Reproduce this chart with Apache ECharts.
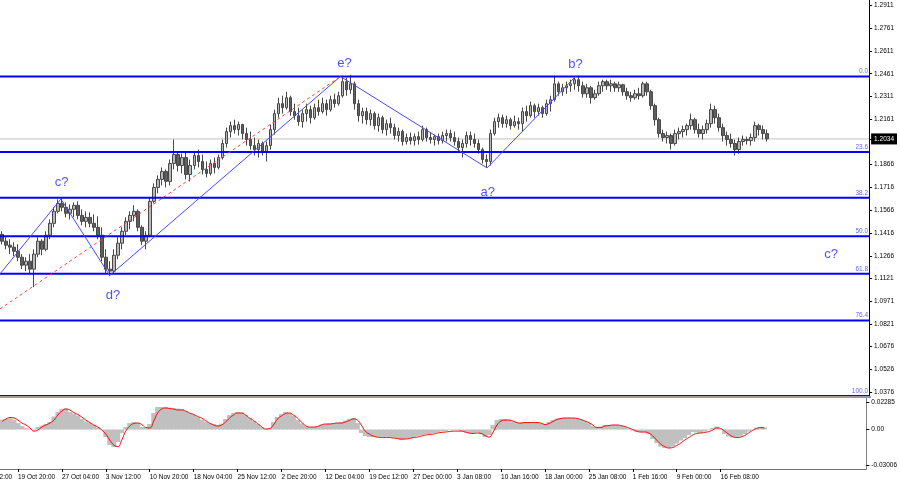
<!DOCTYPE html>
<html>
<head>
<meta charset="utf-8">
<script src="https://cdn.jsdelivr.net/npm/echarts@6/dist/echarts.min.js"></script>
<style>
  html, body { margin: 0; padding: 0; background: #ffffff; }
  #chart { width: 900px; height: 485px; }
</style>
</head>
<body>
<div id="chart"></div>
<script>
  // H4-ish bars (one candle per ~4px)
  const opens = [
    1.1409,1.1364,1.1338,1.1325,1.1298,1.1259,1.1207,1.1233,1.1181,1.1279,
    1.1364,1.1311,1.1403,1.1481,1.1560,1.1612,1.1586,1.1547,1.1573,1.1599,
    1.1533,1.1494,1.1520,1.1481,1.1455,1.1403,1.1259,1.1181,1.1168,1.1272,
    1.1351,1.1429,1.1494,1.1533,1.1560,1.1455,1.1364,1.1403,1.1625,1.1716,
    1.1769,1.1821,1.1756,1.1873,1.1932,1.1860,1.1912,1.1801,1.1860,1.1925,
    1.1886,1.1834,1.1808,1.1873,1.1847,1.1912,1.2004,1.2082,1.2121,1.2095,
    1.2128,1.2069,1.2030,1.1990,1.1964,1.2004,1.1951,1.1990,1.2095,1.2200,
    1.2265,1.2239,1.2304,1.2213,1.2186,1.2147,1.2200,1.2226,1.2173,1.2239,
    1.2213,1.2265,1.2226,1.2291,1.2265,1.2317,1.2409,1.2356,1.2395,1.2265,
    1.2186,1.2213,1.2160,1.2200,1.2121,1.2173,1.2095,1.2134,1.2108,1.2056,
    1.2082,1.2017,1.2043,1.2023,1.2049,1.2030,1.2095,1.2043,1.2030,1.2049,
    1.2023,1.2056,1.2069,1.2043,1.2017,1.1977,1.2004,1.2056,1.2030,1.2004,
    1.1964,1.1899,1.1886,1.2069,1.2147,1.2173,1.2134,1.2160,1.2121,1.2147,
    1.2134,1.2213,1.2186,1.2252,1.2213,1.2239,1.2200,1.2265,1.2291,1.2395,
    1.2343,1.2369,1.2382,1.2395,1.2422,1.2382,1.2330,1.2369,1.2304,1.2330,
    1.2382,1.2409,1.2382,1.2395,1.2369,1.2389,1.2343,1.2317,1.2304,1.2330,
    1.2317,1.2395,1.2343,1.2252,1.2160,1.2069,1.2043,1.2056,1.2004,1.2069,
    1.2082,1.2095,1.2121,1.2160,1.2095,1.2069,1.2095,1.2134,1.2226,1.2173,
    1.2108,1.2056,1.2030,1.2004,1.1964,1.2017,1.2030,1.2023,1.2043,1.2121,
    1.2095,1.2069
  ];
  const closes = [
    1.1364,1.1338,1.1325,1.1298,1.1259,1.1207,1.1233,1.1181,1.1279,1.1364,
    1.1311,1.1403,1.1481,1.1560,1.1612,1.1586,1.1547,1.1573,1.1599,1.1533,
    1.1494,1.1520,1.1481,1.1455,1.1403,1.1259,1.1181,1.1168,1.1272,1.1351,
    1.1429,1.1494,1.1533,1.1560,1.1455,1.1364,1.1403,1.1625,1.1716,1.1769,
    1.1821,1.1756,1.1873,1.1932,1.1860,1.1912,1.1801,1.1860,1.1925,1.1886,
    1.1834,1.1808,1.1873,1.1847,1.1912,1.2004,1.2082,1.2121,1.2095,1.2128,
    1.2069,1.2030,1.1990,1.1964,1.2004,1.1951,1.1990,1.2095,1.2200,1.2265,
    1.2239,1.2304,1.2213,1.2186,1.2147,1.2200,1.2226,1.2173,1.2239,1.2213,
    1.2265,1.2226,1.2291,1.2265,1.2317,1.2409,1.2356,1.2395,1.2265,1.2186,
    1.2213,1.2160,1.2200,1.2121,1.2173,1.2095,1.2134,1.2108,1.2056,1.2082,
    1.2017,1.2043,1.2023,1.2049,1.2030,1.2095,1.2043,1.2030,1.2049,1.2023,
    1.2056,1.2069,1.2043,1.2017,1.1977,1.2004,1.2056,1.2030,1.2004,1.1964,
    1.1899,1.1886,1.2069,1.2147,1.2173,1.2134,1.2160,1.2121,1.2147,1.2134,
    1.2213,1.2186,1.2252,1.2213,1.2239,1.2200,1.2265,1.2291,1.2395,1.2343,
    1.2369,1.2382,1.2395,1.2422,1.2382,1.2330,1.2369,1.2304,1.2330,1.2382,
    1.2409,1.2382,1.2395,1.2369,1.2389,1.2343,1.2317,1.2304,1.2330,1.2317,
    1.2395,1.2343,1.2252,1.2160,1.2069,1.2043,1.2056,1.2004,1.2069,1.2082,
    1.2095,1.2121,1.2160,1.2095,1.2069,1.2095,1.2134,1.2226,1.2173,1.2108,
    1.2056,1.2030,1.2004,1.1964,1.2017,1.2030,1.2023,1.2043,1.2121,1.2095,
    1.2069,1.2034
  ];
  const lows = [
    1.1344,1.1311,1.1279,1.1266,1.1233,1.1181,1.1168,1.1148,1.1063,1.1259,
    1.1272,1.1298,1.1377,1.1455,1.1547,1.1560,1.1520,1.1507,1.1520,1.1507,
    1.1468,1.1455,1.1455,1.1429,1.1377,1.1233,1.1155,1.1135,1.1155,1.1246,
    1.1311,1.1403,1.1442,1.1494,1.1429,1.1338,1.1311,1.1390,1.1612,1.1677,
    1.1729,1.1716,1.1729,1.1834,1.1821,1.1808,1.1769,1.1756,1.1834,1.1847,
    1.1801,1.1782,1.1795,1.1808,1.1834,1.1899,1.1977,1.2043,1.2069,1.2056,
    1.2030,1.1990,1.1964,1.1925,1.1912,1.1925,1.1886,1.1964,1.2062,1.2173,
    1.2200,1.2226,1.2186,1.2160,1.2121,1.2108,1.2147,1.2134,1.2160,1.2186,
    1.2200,1.2186,1.2213,1.2239,1.2252,1.2304,1.2317,1.2330,1.2226,1.2147,
    1.2134,1.2128,1.2121,1.2095,1.2082,1.2069,1.2056,1.2069,1.2030,1.2017,
    1.1990,1.1997,1.1997,1.1990,1.1997,1.2017,1.2017,1.2004,1.1990,1.1997,
    1.2004,1.2017,1.2017,1.1990,1.1951,1.1912,1.1977,1.1990,1.1977,1.1938,
    1.1873,1.1847,1.1860,1.2056,1.2108,1.2108,1.2108,1.2095,1.2108,1.2095,
    1.2082,1.2147,1.2173,1.2173,1.2186,1.2173,1.2186,1.2213,1.2278,1.2317,
    1.2317,1.2330,1.2343,1.2356,1.2343,1.2304,1.2304,1.2265,1.2291,1.2317,
    1.2343,1.2356,1.2343,1.2343,1.2343,1.2317,1.2291,1.2278,1.2291,1.2291,
    1.2304,1.2317,1.2226,1.2121,1.2043,1.2017,1.2004,1.1964,1.1990,1.2030,
    1.2043,1.2056,1.2095,1.2069,1.2043,1.2030,1.2069,1.2108,1.2134,1.2082,
    1.2017,1.1990,1.1977,1.1925,1.1938,1.1990,1.1997,1.1990,1.2017,1.2056,
    1.2030,1.2017
  ];
  const highs = [
    1.1429,1.1390,1.1377,1.1357,1.1344,1.1279,1.1259,1.1279,1.1311,1.1390,
    1.1377,1.1429,1.1507,1.1586,1.1638,1.1644,1.1618,1.1605,1.1618,1.1625,
    1.1573,1.1560,1.1553,1.1540,1.1527,1.1455,1.1311,1.1233,1.1311,1.1390,
    1.1455,1.1520,1.1560,1.1599,1.1573,1.1468,1.1429,1.1651,1.1743,1.1795,
    1.1847,1.1834,1.1899,1.2030,1.1951,1.1938,1.1951,1.1899,1.1951,1.1964,
    1.1932,1.1886,1.1899,1.1912,1.1932,1.2030,1.2108,1.2147,1.2160,1.2147,
    1.2134,1.2108,1.2082,1.2043,1.2030,1.2017,1.2017,1.2128,1.2226,1.2304,
    1.2317,1.2343,1.2317,1.2265,1.2239,1.2226,1.2265,1.2252,1.2265,1.2291,
    1.2304,1.2291,1.2317,1.2330,1.2343,1.2448,1.2435,1.2454,1.2409,1.2291,
    1.2239,1.2239,1.2226,1.2213,1.2200,1.2186,1.2160,1.2173,1.2134,1.2108,
    1.2095,1.2069,1.2075,1.2069,1.2082,1.2121,1.2108,1.2075,1.2062,1.2069,
    1.2082,1.2095,1.2095,1.2082,1.2043,1.2030,1.2082,1.2082,1.2069,1.2030,
    1.1977,1.1932,1.2095,1.2173,1.2200,1.2193,1.2186,1.2173,1.2186,1.2173,
    1.2239,1.2252,1.2278,1.2265,1.2265,1.2252,1.2291,1.2317,1.2448,1.2409,
    1.2395,1.2409,1.2422,1.2435,1.2448,1.2409,1.2395,1.2382,1.2356,1.2409,
    1.2422,1.2422,1.2422,1.2409,1.2409,1.2395,1.2369,1.2343,1.2356,1.2369,
    1.2409,1.2409,1.2356,1.2265,1.2173,1.2095,1.2082,1.2069,1.2095,1.2108,
    1.2121,1.2134,1.2200,1.2173,1.2134,1.2121,1.2160,1.2265,1.2252,1.2200,
    1.2134,1.2082,1.2069,1.2030,1.2043,1.2056,1.2049,1.2069,1.2147,1.2134,
    1.2121,1.2095
  ];

  // MACD pane: grey histogram + red signal
  const macdHist = [
    0.0083,0.0088,0.0093,0.0083,0.0054,0.0029,0.0013,0.0004,-0.0004,0.0021,
    0.0033,0.0046,0.0063,0.0109,0.0146,0.0171,0.0175,0.0146,0.0133,0.0117,
    0.0088,0.0067,0.0054,0.0038,0.0017,-0.0004,-0.0063,-0.0129,-0.0146,-0.0104,
    -0.0029,0.0021,0.0054,0.0063,0.0054,0.0021,0.0013,0.0046,0.0138,0.0188,
    0.0188,0.0188,0.0183,0.0179,0.0175,0.0171,0.0154,0.0138,0.0125,0.0104,
    0.0083,0.0067,0.0054,0.0046,0.0038,0.0050,0.0088,0.0121,0.0138,0.0146,
    0.0142,0.0121,0.0096,0.0071,0.0046,0.0021,0.0004,0.0013,0.0063,0.0104,
    0.0129,0.0146,0.0138,0.0117,0.0079,0.0050,0.0029,0.0021,0.0021,0.0029,
    0.0042,0.0046,0.0050,0.0054,0.0058,0.0063,0.0075,0.0088,0.0096,0.0054,
    -0.0029,-0.0054,-0.0063,-0.0063,-0.0063,-0.0063,-0.0063,-0.0063,-0.0067,-0.0075,
    -0.0088,-0.0079,-0.0071,-0.0063,-0.0054,-0.0046,-0.0038,-0.0038,-0.0029,-0.0021,
    -0.0017,-0.0013,-0.0004,-0.0004,-0.0004,-0.0013,-0.0021,-0.0029,-0.0029,-0.0021,
    -0.0038,-0.0063,-0.0046,0.0038,0.0079,0.0088,0.0088,0.0079,0.0067,0.0054,
    0.0058,0.0063,0.0063,0.0063,0.0058,0.0050,0.0038,0.0063,0.0079,0.0092,
    0.0096,0.0096,0.0096,0.0096,0.0088,0.0079,0.0067,0.0054,0.0029,0.0013,
    0.0025,0.0038,0.0038,0.0038,0.0038,0.0029,0.0021,0.0008,-0.0008,-0.0021,
    -0.0021,-0.0021,-0.0038,-0.0079,-0.0113,-0.0142,-0.0154,-0.0154,-0.0142,-0.0117,
    -0.0092,-0.0071,-0.0046,-0.0021,-0.0025,-0.0029,-0.0017,-0.0004,0.0013,0.0025,
    -0.0004,-0.0038,-0.0058,-0.0067,-0.0071,-0.0058,-0.0038,-0.0017,0.0004,0.0017,
    0.0021,0.0017
  ];
  const macdSignal = [
    0.0067,0.0088,0.0100,0.0096,0.0079,0.0054,0.0038,0.0013,-0.0013,-0.0004,
    0.0021,0.0038,0.0054,0.0079,0.0121,0.0154,0.0171,0.0163,0.0142,0.0125,
    0.0104,0.0079,0.0058,0.0038,0.0021,-0.0004,-0.0038,-0.0088,-0.0129,-0.0142,
    -0.0088,-0.0013,0.0029,0.0050,0.0054,0.0042,0.0017,0.0013,0.0071,0.0138,
    0.0171,0.0179,0.0175,0.0171,0.0163,0.0163,0.0154,0.0138,0.0125,0.0109,
    0.0096,0.0075,0.0054,0.0038,0.0029,0.0038,0.0063,0.0096,0.0121,0.0138,
    0.0138,0.0121,0.0096,0.0075,0.0050,0.0025,0.0004,0.0008,0.0038,0.0088,
    0.0113,0.0133,0.0138,0.0121,0.0096,0.0063,0.0033,0.0021,0.0021,0.0025,
    0.0038,0.0046,0.0046,0.0050,0.0054,0.0054,0.0063,0.0075,0.0088,0.0079,
    0.0038,-0.0013,-0.0038,-0.0054,-0.0063,-0.0067,-0.0067,-0.0067,-0.0071,-0.0075,
    -0.0079,-0.0079,-0.0075,-0.0067,-0.0063,-0.0054,-0.0046,-0.0042,-0.0038,-0.0029,
    -0.0025,-0.0021,-0.0017,-0.0013,-0.0013,-0.0013,-0.0021,-0.0029,-0.0033,-0.0029,
    -0.0033,-0.0050,-0.0063,-0.0021,0.0038,0.0071,0.0079,0.0079,0.0071,0.0058,
    0.0054,0.0058,0.0058,0.0058,0.0058,0.0054,0.0042,0.0050,0.0067,0.0083,
    0.0092,0.0096,0.0096,0.0096,0.0092,0.0083,0.0071,0.0058,0.0038,0.0017,
    0.0017,0.0029,0.0033,0.0038,0.0038,0.0033,0.0025,0.0013,0.0000,-0.0013,
    -0.0021,-0.0021,-0.0029,-0.0054,-0.0088,-0.0121,-0.0142,-0.0154,-0.0150,-0.0133,
    -0.0113,-0.0088,-0.0067,-0.0046,-0.0033,-0.0029,-0.0025,-0.0017,-0.0004,0.0013,
    0.0008,-0.0013,-0.0038,-0.0058,-0.0067,-0.0063,-0.0050,-0.0029,-0.0008,0.0008,
    0.0017,0.0013
  ];

  // time axis labels, one every 11 bars starting at bar 4
  const timeLabels = ['19 Oct 20:00', '27 Oct 04:00', '3 Nov 12:00', '10 Nov 20:00', '18 Nov 04:00',
    '25 Nov 12:00', '2 Dec 20:00', '12 Dec 04:00', '19 Dec 12:00', '27 Dec 00:00', '3 Jan 08:00',
    '10 Jan 16:00', '18 Jan 00:00', '25 Jan 08:00', '1 Feb 16:00', '9 Feb 00:00', '16 Feb 08:00']
  const priceTicks = [1.2911, 1.2761, 1.2611, 1.2461, 1.2311, 1.2161, 1.2034, 1.1866, 1.1716,
    1.1566, 1.1416, 1.1266, 1.1121, 1.0971, 1.0821, 1.0676, 1.0526, 1.0376]
  const currentPrice = 1.2034
  const macdTicks = [0.02285, 0, -0.03006]
  const macdTickText = ['0.02285', '0.00', '-0.03006']

  // fibonacci grid
  const fibRatios = ['0.0', '23.6', '38.2', '50.0', '61.8', '76.4', '100.0']
  const fibPrices = [1.2443, 1.1949, 1.1648, 1.1397, 1.1150, 1.0844, 1.0350]

  // wave path: start, c?, d?, e?, a?, b?  (bar index, price)
  const waveX = [-0.5, 14.7, 26.9, 84.5, 121.1, 143.2]
  const waveY = [1.1150, 1.1640, 1.1140, 1.2443, 1.1844, 1.2443]
  const trendX = [-0.5, 84.5]
  const trendY = [1.0920, 1.2443]
  const waveNames = ['c?', 'd?', 'e?', 'a?', 'b?', 'c?']
  const waveNameX = [14.9, 27.7, 85.5, 121.3, 143.2, 207.0]
  const waveNameY = [1.1752, 1.1012, 1.2531, 1.1686, 1.2525, 1.1280]

  const slots = 217
  const xMin = -0.5
  const xMax = slots - 0.5
  const cats = []
  for (let i = 0; i < slots; i++) cats.push(String(i))
  const candles = opens.map((o, i) => [o, closes[i], lows[i], highs[i]])
  const font = '"Liberation Sans", Arial, sans-serif'
  const isTimeTick = (i) => i >= 4 && (i - 4) % 11 === 0 && (i - 4) / 11 < timeLabels.length

  // horizontal levels drawn as plain two-point line series on the value x axis
  const levelSeries = fibPrices.map(p => ({
    type: 'line', xAxisIndex: 1, yAxisIndex: 0, symbol: 'none', silent: true, z: 3,
    data: [[xMin, p], [xMax, p]],
    lineStyle: { color: '#0000ff', width: 2 }
  }))
  levelSeries.push({
    type: 'line', xAxisIndex: 1, yAxisIndex: 0, symbol: 'none', silent: true, z: 1,
    data: [[xMin, currentPrice], [xMax, currentPrice]],
    lineStyle: { color: '#c4c4c4', width: 1 }
  })

  const chart = echarts.init(document.getElementById('chart'))
  chart.setOption({
    animation: false,
    backgroundColor: '#ffffff',
    textStyle: { fontFamily: font },
    grid: [
      { left: 0, top: 0, width: 871, height: 396 },
      { left: 0, top: 398, width: 871, height: 71 }
    ],
    xAxis: [
      { type: 'category', gridIndex: 0, data: cats, boundaryGap: true,
        axisLine: { show: false }, axisTick: { show: false }, axisLabel: { show: false } },
      { type: 'value', gridIndex: 0, min: xMin, max: xMax, show: false },
      { type: 'category', gridIndex: 1, data: cats, boundaryGap: true,
        axisLine: { show: true, onZero: false, lineStyle: { color: '#707070' } },
        axisTick: { show: true, alignWithLabel: true, length: 3, interval: isTimeTick,
          lineStyle: { color: '#000' } },
        axisLabel: { interval: isTimeTick, align: 'left', margin: 5, fontSize: 6.5, color: '#000',
          formatter: (v, i) => timeLabels[(i - 4) / 11] } }
    ],
    yAxis: [
      { type: 'value', gridIndex: 0, position: 'right', min: 1.0350, max: 1.2944,
        splitLine: { show: false },
        axisLine: { show: true, onZero: false, lineStyle: { color: '#000' } },
        axisTick: { show: true, length: 3, customValues: priceTicks, lineStyle: { color: '#000' } },
        axisLabel: {
          customValues: priceTicks, margin: 2, fontSize: 6.5, color: '#000',
          formatter: v => Math.abs(v - currentPrice) < 1e-6 ? '{cur|' + v.toFixed(4) + '}' : '{n|' + v.toFixed(4) + '}',
          rich: {
            n: { fontSize: 6.5, color: '#000', padding: [0, 0, 0, 3] },
            cur: { fontSize: 6.5, color: '#fff', backgroundColor: '#000', padding: [2, 3, 2, 3] }
          }
        } },
      { type: 'value', gridIndex: 1, position: 'right', min: -0.0329, max: 0.0263,
        splitLine: { show: false },
        axisLine: { show: true, onZero: false, lineStyle: { color: '#808080' } },
        axisTick: { show: true, length: 3, customValues: macdTicks, lineStyle: { color: '#000' } },
        axisLabel: { customValues: macdTicks, margin: 5, fontSize: 6.5, color: '#000',
          formatter: v => macdTickText[macdTicks.findIndex(t => Math.abs(t - v) < 1e-9)] } }
    ],
    graphic: [
      { type: 'rect', shape: { x: 0, y: 396, width: 871, height: 2 }, style: { fill: '#9a9a9a' }, z: 100 },
      { type: 'text', x: -25, y: 474, style: { text: '12 Oct 12:00', font: '6.5px ' + font, fill: '#000' } }
    ],
    series: levelSeries.concat([
      {
        type: 'candlestick', xAxisIndex: 0, yAxisIndex: 0, data: candles, barWidth: 3, z: 2,
        itemStyle: { color: '#b8b8b8', color0: '#606060', borderColor: '#484848', borderColor0: '#484848', borderWidth: 1 }
      },
      {
        type: 'line', xAxisIndex: 1, yAxisIndex: 0, symbol: 'none', z: 4,
        data: waveX.map((x, k) => [x, waveY[k]]),
        lineStyle: { color: '#4848ff', width: 1 }
      },
      {
        type: 'line', xAxisIndex: 1, yAxisIndex: 0, symbol: 'none', z: 4,
        data: trendX.map((x, k) => [x, trendY[k]]),
        lineStyle: { color: '#ff4040', width: 1, type: [3, 3] }
      },
      {
        type: 'scatter', xAxisIndex: 1, yAxisIndex: 0, symbolSize: 0, z: 5,
        data: fibPrices.map((p, k) => [xMax, p, fibRatios[k]]),
        label: { show: true, position: 'left', distance: 1, offset: [0, -5], formatter: p => p.data[2],
          fontSize: 6.5, color: '#3a3aff', fontFamily: font }
      },
      {
        type: 'scatter', xAxisIndex: 1, yAxisIndex: 0, symbolSize: 0, z: 5,
        data: waveNameX.map((x, k) => [x, waveNameY[k], waveNames[k]]),
        label: { show: true, position: 'inside', formatter: p => p.data[2], fontSize: 13, color: '#1e1eff', fontFamily: font }
      },
      {
        type: 'bar', xAxisIndex: 2, yAxisIndex: 1, data: macdHist, barWidth: 5,
        itemStyle: { color: '#c0c0c0' }
      },
      {
        type: 'line', xAxisIndex: 2, yAxisIndex: 1, data: macdSignal, symbol: 'none', smooth: true,
        lineStyle: { color: '#ff0000', width: 1 }
      }
    ])
  })
</script>
</body>
</html>
